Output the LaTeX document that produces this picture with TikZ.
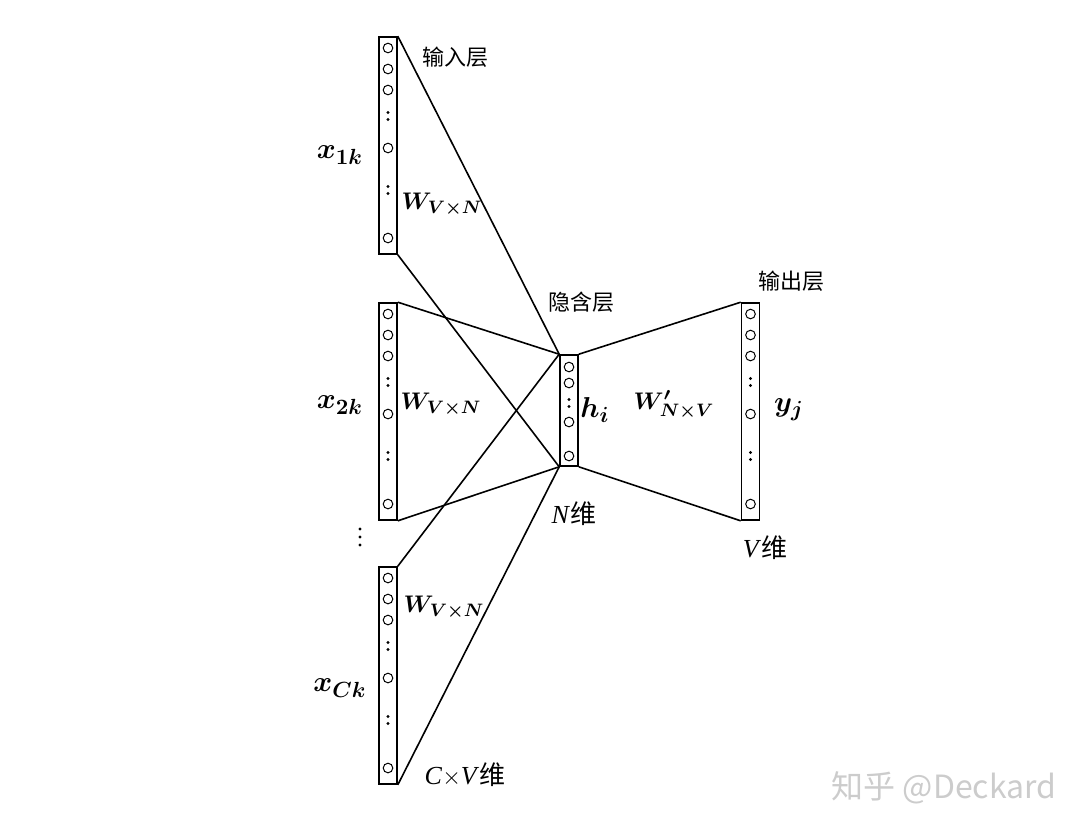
\documentclass[tikz,border=0pt]{standalone}
\usepackage{fontspec}
\usepackage{bm}
\setmainfont{Liberation Serif}
\newfontfamily\cjk{Noto Sans CJK SC}
\begin{document}
\begin{tikzpicture}[x=0.5pt,y=-0.5pt,
  layer/.style={draw,line width=0.8pt,minimum width=9pt,inner sep=0pt},
  link/.style={line width=0.8pt},
  cnlab/.style={font=\cjk\fontsize{11}{13}\selectfont},
  dimlab/.style={font=\fontsize{13}{15}\selectfont},
  veclab/.style={font=\fontsize{15}{17}\selectfont},
  wlab/.style={font=\fontsize{12.5}{15}\selectfont}]
\useasboundingbox (0,0) rectangle (1086,832);
% layers
\node[layer,minimum height=108.5pt] (in1) at (388,145.5) {};
\node[layer,minimum height=108.5pt] (in2) at (388,411.5) {};
\node[layer,minimum height=108.5pt] (in3) at (388,675.5) {};
\node[layer,minimum height=55.5pt] (hid) at (569,410.5) {};
\node[layer,minimum height=108.5pt] (out) at (750.5,411.5) {};
% units
\foreach \t/\x in {37/388,303/388,567/388,303/750.5} {
  \foreach \d in {11,32,53,111,201}
    \draw[line width=0.5pt] (\x,\t+\d) circle (2.4pt);
  \foreach \d in {79,153} {
    \fill (\x,\t+\d-3.5) circle (0.8pt);
    \fill (\x,\t+\d+3.5) circle (0.8pt);
  }
}
\foreach \d in {12,28,67,101}
  \draw[line width=0.5pt] (569,355+\d) circle (2.4pt);
\fill (569,355+48-3.5) circle (0.8pt);
\fill (569,355+48+3.5) circle (0.8pt);
% more input layers
\foreach \d in {529,537,545}
  \fill (360,\d) circle (0.8pt);
% connections
\foreach \n in {in1,in2,in3} {
  \draw[link] (\n.north east) -- (hid.north west);
  \draw[link] (\n.south east) -- (hid.south west);
}
\draw[link] (hid.north east) -- (out.north west);
\draw[link] (hid.south east) -- (out.south west);
% labels
\node[cnlab] (inname) at (455,57) {输入层};
\node[cnlab] (hidname) at (581,302) {隐含层};
\node[cnlab] (outname) at (791,281) {输出层};
\node[veclab] (x1) at (340,155) {$\bm{x_{1k}}$};
\node[veclab] (x2) at (340,405) {$\bm{x_{2k}}$};
\node[veclab] (x3) at (340,688) {$\bm{x_{Ck}}$};
\node[wlab] (w1) at (442,205) {$\bm{W_{V\times N}}$};
\node[wlab] (w2) at (441,405) {$\bm{W_{V\times N}}$};
\node[wlab] (w3) at (444,608) {$\bm{W_{V\times N}}$};
\node[veclab] (h) at (595,410) {$\bm{h_{i}}$};
\node[wlab] (w4) at (674,405) {$\bm{W'_{N\times V}}$};
\node[veclab] (y) at (789,410) {$\bm{y_{j}}$};
\node[dimlab] (ndim) at (574,514) {\textit{N}{\cjk 维}};
\node[dimlab] (vdim) at (765,548) {\textit{V}{\cjk 维}};
\node[dimlab] (cdim) at (465,775) {\textit{C}$\times$\textit{V}{\cjk 维}};
\node[text=gray!40,font=\cjk\fontsize{16}{18}\selectfont] (mark) at (944,788) {知乎 @Deckard};
\end{tikzpicture}
\end{document}
